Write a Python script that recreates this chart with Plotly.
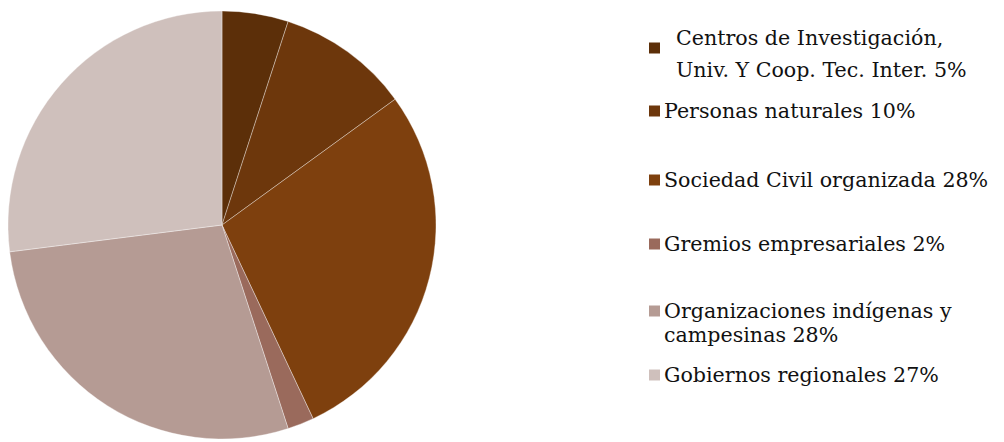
import plotly.graph_objects as go

categories = [
    "Centros de Investigación,<br>Univ. Y Coop. Tec. Inter.",
    "Personas naturales",
    "Sociedad Civil organizada",
    "Gremios empresariales",
    "Organizaciones indígenas y<br>campesinas",
    "Gobiernos regionales",
]
values = [5, 10, 28, 2, 28, 27]
colors = ["#5c2f09", "#6d370c", "#7e400e", "#9a6a5c", "#b59b94", "#cfc0bc"]

# the page body adds an 8px offset; work in figure pixels
OFF = 8
W, H = 1004 - OFF, 442 - OFF

fig = go.Figure()
fig.add_trace(go.Pie(
    labels=categories,
    values=values,
    sort=False,
    direction="clockwise",
    rotation=0,
    textinfo="none",
    hoverinfo="label+percent",
    marker=dict(colors=colors, line=dict(color="rgba(255,255,255,0.35)", width=1)),
    domain=dict(x=[0, 428 / W], y=[1 - 431 / H, 1 - 3 / H]),
    showlegend=False,
))

# legend layout (screen pixel positions)
sq_centers = [48, 111, 180, 244, 311, 375]
text_x = [677, 665, 665, 665, 665, 665]
line_y = [[38, 70], [111], [180], [244], [311, 335], [375]]
font = dict(family="DejaVu Serif", size=20.6, color="#111111")

for i, (cat, v) in enumerate(zip(categories, values)):
    yc = sq_centers[i] - OFF
    fig.add_shape(type="rect", xref="paper", yref="paper",
                  x0=(649 - OFF) / W, x1=(660 - OFF) / W,
                  y0=1 - (yc + 5.5) / H, y1=1 - (yc - 5.5) / H,
                  fillcolor=colors[i], line=dict(width=0))
    lines = f"{cat} {v}%".split("<br>")
    for txt, ly in zip(lines, line_y[i]):
        fig.add_annotation(
            x=(text_x[i] - OFF - 3) / W, y=1 - (ly - OFF) / H,
            xref="paper", yref="paper",
            xanchor="left", yanchor="middle", align="left",
            text=txt, showarrow=False, font=font,
        )

fig.update_layout(
    width=W, height=H,
    margin=dict(l=0, r=0, t=0, b=0),
    paper_bgcolor="white", plot_bgcolor="white",
)

fig.write_html("out.html")
